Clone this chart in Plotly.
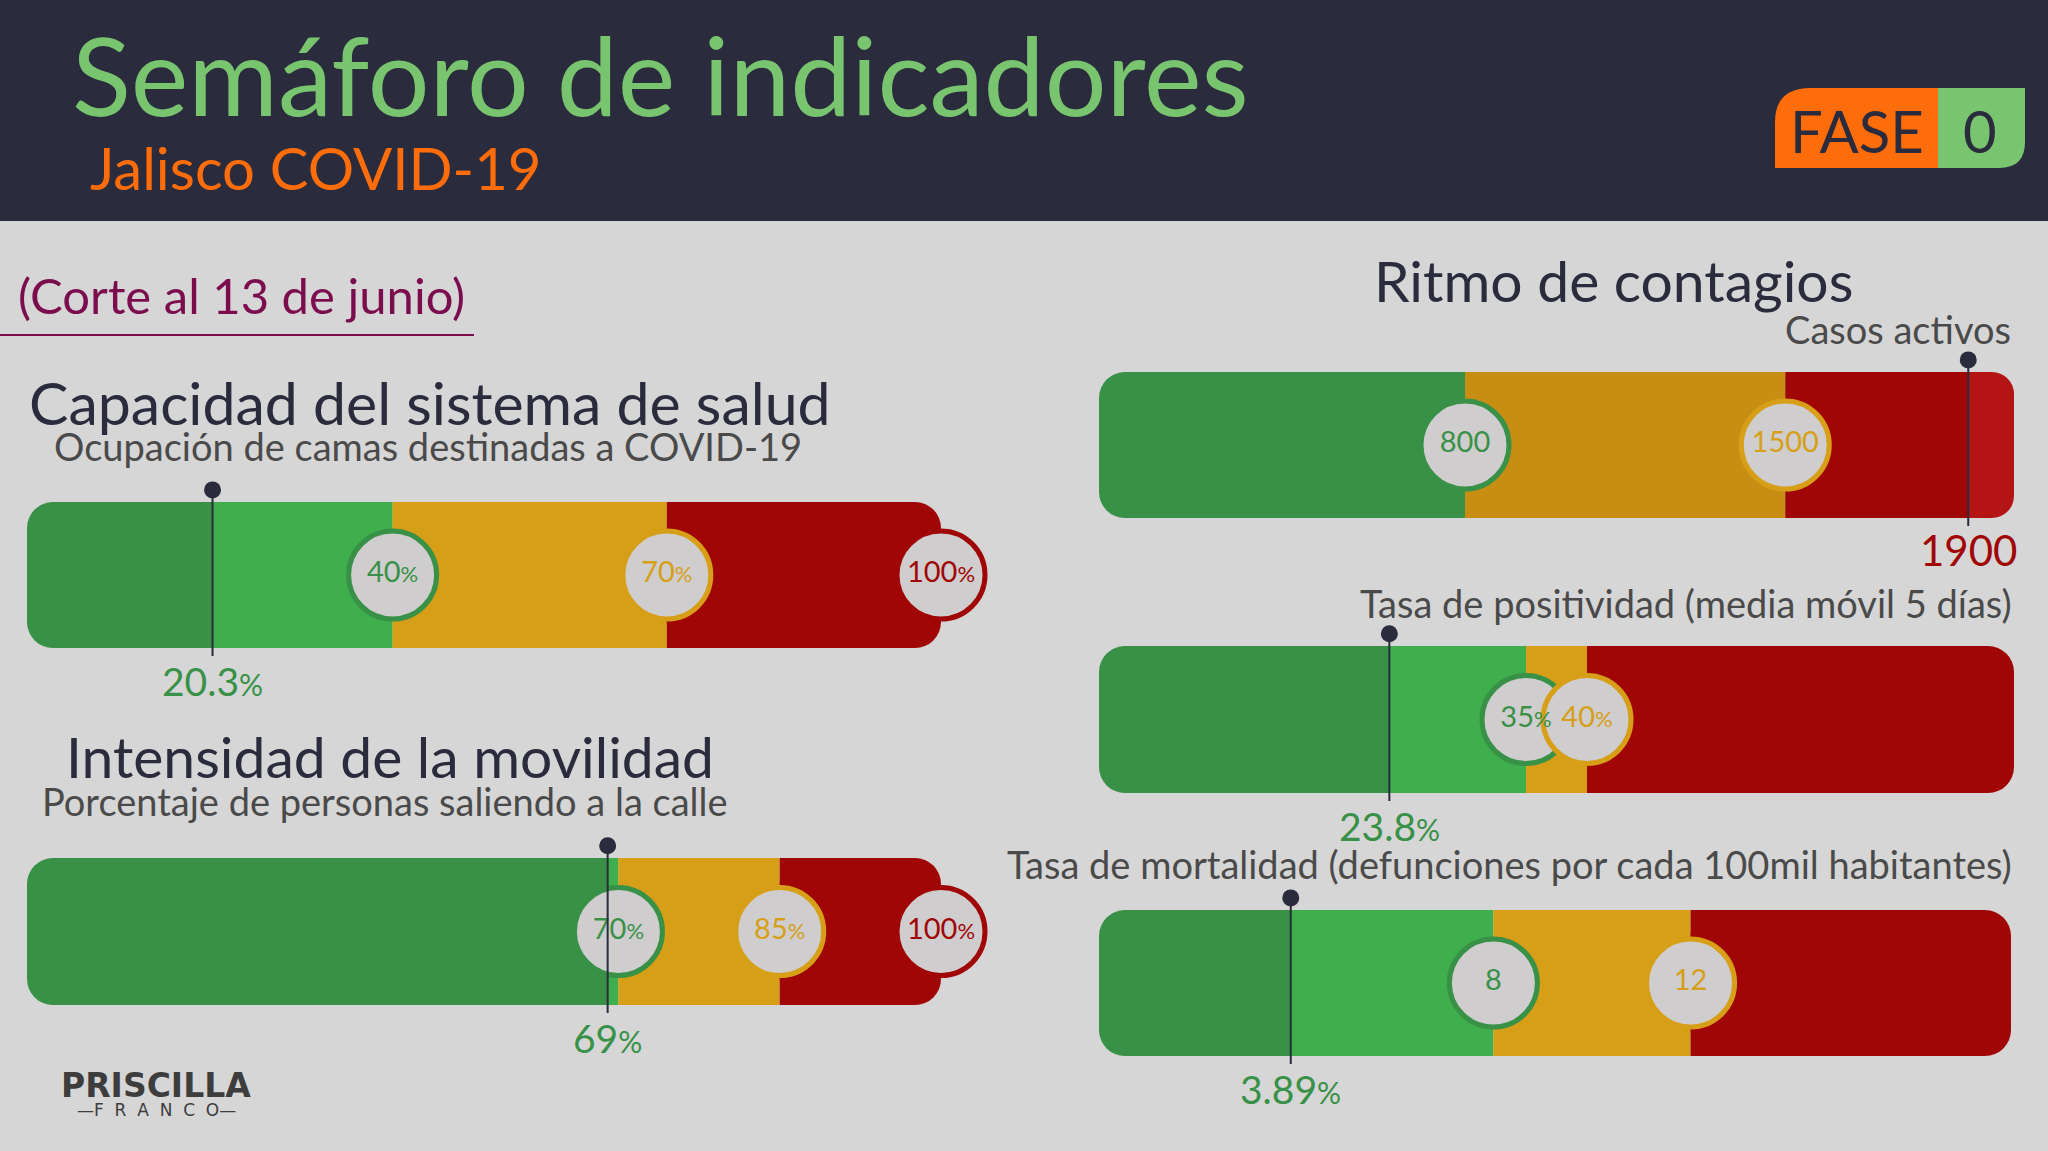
"""Semáforo de indicadores COVID-19 Jalisco (infografía)."""

import plotly.graph_objects as go

W, H = 2048, 1151
FONT = "Lato"

# --- datos de cada indicador ---
capacidad_valor = 20.3
capacidad_umbrales = [40, 70, 100]
capacidad_escala = [0, 100]
capacidad_etiquetas = ["40%", "70%", "100%"]
capacidad_texto = "20.3%"

movilidad_valor = 69
movilidad_umbrales = [70, 85, 100]
movilidad_escala = [15, 100]
movilidad_etiquetas = ["70%", "85%", "100%"]
movilidad_texto = "69%"

casos_valor = 1900
casos_umbrales = [800, 1500]
casos_escala = [0, 2000]
casos_etiquetas = ["800", "1500"]
casos_texto = "1900"

positividad_valor = 23.8
positividad_umbrales = [35, 40]
positividad_escala = [0, 75]
positividad_etiquetas = ["35%", "40%"]
positividad_texto = "23.8%"

mortalidad_valor = 3.89
mortalidad_umbrales = [8, 12]
mortalidad_escala = [0, 18.5]
mortalidad_etiquetas = ["8", "12"]
mortalidad_texto = "3.89%"

# colores por zona: verde, amarillo, rojo
OSCURO = ["#389147", "#c78e13", "#a00606"]
CLARO = ["#3fae4c", "#d79f17", "#b51414"]
REPOSO = ["#3fae4c", "#d79f17", "#a00606"]
BORDE = ["#389147", "#d79f17", "#a00606"]
AZUL = "#2a2b3d"
GRIS = "#4a4a4a"
RADIO = 26
YR = 0.62  # rango vertical de cada barra (la barra ocupa -0.5..0.5)


def pct(s, size):
    return s.replace("%", f"<span style='font-size:{size}px'>%</span>")


def texto(fig, s, x, base, size, color, anchor="left", xref="paper",
          weight="normal", family=FONT):
    """Coloca un texto usando su línea base en pixeles."""
    fig.add_annotation(
        text=s,
        x=x / W if xref == "paper" else x,
        y=1 - (base - 0.415 * size) / H,
        xref=xref,
        yref="paper",
        xanchor=anchor,
        yanchor="middle",
        showarrow=False,
        font=dict(family=family, size=size, color=color, weight=weight),
    )


def barra(fig, xa, ya, base, largo, color, radio):
    fig.add_trace(go.Bar(
        x=[largo], y=[0], base=[base], orientation="h", width=1,
        marker=dict(color=color, line_width=0, cornerradius=radio),
        xaxis=xa, yaxis=ya, hoverinfo="skip", showlegend=False,
    ))


def semaforo(fig, n, valor, umbrales, escala, etiquetas, texto_valor, caja):
    x0, x1, y0, y1 = caja
    xa = "x" if n == 1 else f"x{n}"
    ya = "y" if n == 1 else f"y{n}"
    alto = y1 - y0
    centro = (y0 + y1) / 2
    fig.update_layout({
        "xaxis" if n == 1 else f"xaxis{n}": dict(
            domain=[x0 / W, x1 / W], range=escala, visible=False, anchor=ya, fixedrange=True),
        "yaxis" if n == 1 else f"yaxis{n}": dict(
            domain=[1 - (centro + YR * alto) / H, 1 - (centro - YR * alto) / H],
            range=[-YR, YR], visible=False, anchor=xa, fixedrange=True),
    })

    fines = umbrales[:2] + [escala[1]]
    inicio = escala[0]
    tramos = []
    for i, fin in enumerate(fines):
        if inicio < valor < fin:
            tramos += [(inicio, valor, OSCURO[i]), (valor, fin, CLARO[i])]
        elif fin <= valor:
            tramos.append((inicio, fin, OSCURO[i]))
        else:
            tramos.append((inicio, fin, REPOSO[i]))
        inicio = fin

    ultimo = len(tramos) - 1
    for k, (a, b, color) in enumerate(tramos):
        medio = (a + b) / 2
        if k == 0:
            # extremo izquierdo redondeado; la mitad derecha se tapa sin redondeo
            barra(fig, xa, ya, b, a - b, color, RADIO)
            barra(fig, xa, ya, medio, b - medio, color, 0)
        elif k == ultimo:
            barra(fig, xa, ya, a, b - a, color, RADIO)
            barra(fig, xa, ya, a, medio - a, color, 0)
        else:
            barra(fig, xa, ya, a, b - a, color, 0)

    colores = BORDE[:len(umbrales)]
    fig.add_trace(go.Scatter(
        x=umbrales, y=[0] * len(umbrales), mode="markers",
        marker=dict(size=88, color="#cfcdcd", line=dict(width=5, color=colores)),
        cliponaxis=False, xaxis=xa, yaxis=ya, hoverinfo="skip", showlegend=False,
    ))
    fig.add_trace(go.Scatter(
        x=umbrales, y=[0] * len(umbrales), mode="text",
        text=[pct(e, 22) for e in etiquetas], textposition="middle center",
        textfont=dict(family=FONT, size=29, color=colores),
        cliponaxis=False, xaxis=xa, yaxis=ya, hoverinfo="skip", showlegend=False,
    ))

    fig.add_trace(go.Scatter(
        x=[valor, valor], y=[-0.555, 0.583], mode="lines",
        line=dict(color=AZUL, width=2),
        cliponaxis=False, xaxis=xa, yaxis=ya, hoverinfo="skip", showlegend=False,
    ))
    fig.add_trace(go.Scatter(
        x=[valor], y=[0.583], mode="markers",
        marker=dict(size=17, color=AZUL),
        cliponaxis=False, xaxis=xa, yaxis=ya, hoverinfo="skip", showlegend=False,
    ))

    zona = sum(valor > u for u in umbrales[:2])
    size = 42 if zona == 2 else 39
    texto(fig, pct(texto_valor, 30), valor, y1 + 49, size, BORDE[zona], anchor="center", xref=xa)


def ruta(puntos):
    """Path en coordenadas de papel a partir de pixeles."""
    partes = []
    for p in puntos:
        if isinstance(p, str):
            partes.append(p)
        else:
            partes.append(f"{p[0] / W:.5f},{1 - p[1] / H:.5f}")
    return " ".join(partes)


fig = go.Figure()

semaforo(fig, 1, capacidad_valor, capacidad_umbrales, capacidad_escala,
         capacidad_etiquetas, capacidad_texto, (27, 941, 502, 648))
semaforo(fig, 2, movilidad_valor, movilidad_umbrales, movilidad_escala,
         movilidad_etiquetas, movilidad_texto, (27, 941, 858, 1005))
semaforo(fig, 3, casos_valor, casos_umbrales, casos_escala,
         casos_etiquetas, casos_texto, (1099, 2014, 372, 518))
semaforo(fig, 4, positividad_valor, positividad_umbrales, positividad_escala,
         positividad_etiquetas, positividad_texto, (1099, 2014, 646, 793))
semaforo(fig, 5, mortalidad_valor, mortalidad_umbrales, mortalidad_escala,
         mortalidad_etiquetas, mortalidad_texto, (1099, 2011, 910, 1056))

# encabezado
texto(fig, "Semáforo de indicadores", 70, 119, 109, "#78c46f")
texto(fig, "Jalisco COVID-19", 88, 192, 58, "#ff6d0a")
texto(fig, "FASE", 1857, 155, 58, AZUL, anchor="center")
texto(fig, "0", 1980, 155, 58, AZUL, anchor="center")

texto(fig, "(Corte al 13 de junio)", 16, 315, 49, "#7b0d4e")

texto(fig, "Capacidad del sistema de salud", 27, 427, 59, AZUL)
texto(fig, "Ocupación de camas destinadas a COVID-19", 52, 462, 38, GRIS)
texto(fig, "Intensidad de la movilidad", 64, 780, 57, AZUL)
texto(fig, "Porcentaje de personas saliendo a la calle", 40, 817, 38, GRIS)

texto(fig, "Ritmo de contagios", 1372, 304, 57, AZUL)
texto(fig, "Casos activos", 2013, 345, 38, GRIS, anchor="right")
texto(fig, "Tasa de positividad (media móvil 5 días)", 2014, 619, 38, GRIS, anchor="right")
texto(fig, "Tasa de mortalidad (defunciones por cada 100mil habitantes)", 2014, 880, 38, GRIS, anchor="right")

texto(fig, "PRISCILLA", 156, 1099, 33, "#3d3d3d", anchor="center", weight="bold",
      family="DejaVu Sans")
texto(fig, "—F\u00a0\u00a0R\u00a0\u00a0A\u00a0\u00a0N\u00a0\u00a0C\u00a0\u00a0O—", 156, 1117, 17,
      "#3d3d3d", anchor="center", family="DejaVu Sans")

shapes = [
    dict(type="rect", xref="paper", yref="paper", x0=0, x1=1, y0=1 - 221 / H, y1=1,
         fillcolor=AZUL, line_width=0, layer="below"),
    dict(type="line", xref="paper", yref="paper", x0=0, x1=474 / W, y0=1 - 335 / H, y1=1 - 335 / H,
         line=dict(color="#7b0d4e", width=2)),
    dict(type="path", xref="paper", yref="paper", fillcolor="#ff6d0a", line_width=0, layer="below",
         path=ruta(["M", (1775, 168), "L", (1775, 122), "Q", (1775, 88), (1811, 88),
                    "L", (1938, 88), "L", (1938, 168), "Z"])),
    dict(type="path", xref="paper", yref="paper", fillcolor="#78c46f", line_width=0, layer="below",
         path=ruta(["M", (1938, 88), "L", (2025, 88), "L", (2025, 142), "Q", (2025, 168), (1999, 168),
                    "L", (1938, 168), "Z"])),
]

fig.update_layout(
    width=W,
    height=H,
    margin=dict(l=0, r=0, t=0, b=0),
    paper_bgcolor="#d6d6d6",
    plot_bgcolor="rgba(0,0,0,0)",
    barmode="overlay",
    showlegend=False,
    hovermode=False,
    shapes=shapes,
)

fig.write_html("out.html", config={"displayModeBar": False},
               post_script="document.body.style.margin='0';")
